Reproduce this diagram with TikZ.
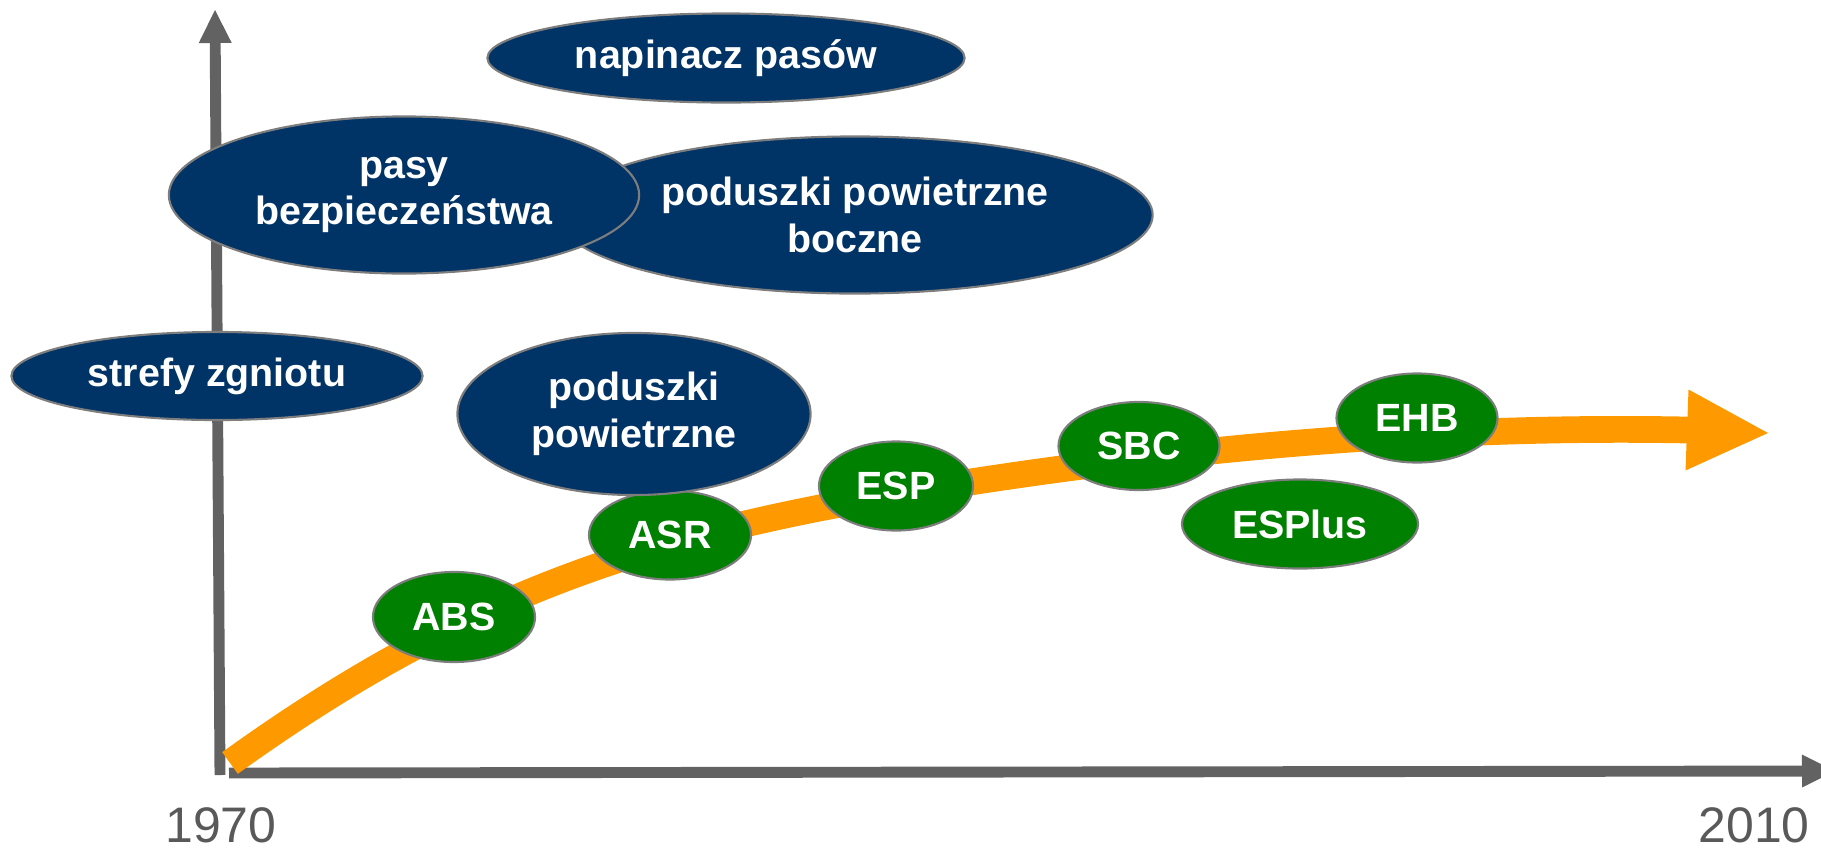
\documentclass[tikz,border=0pt]{standalone}
\usepackage{fontspec}
\setmainfont{Liberation Sans}
\usetikzlibrary{shapes.geometric, arrows.meta}
\definecolor{navy}{RGB}{0,51,102}
\definecolor{safetygreen}{RGB}{0,128,0}
\definecolor{trendorange}{RGB}{255,153,0}
\definecolor{axisgray}{RGB}{98,98,98}
\definecolor{yeargray}{RGB}{89,89,89}
\definecolor{rimgray}{RGB}{125,125,125}

\begin{document}
\begin{tikzpicture}[x=0.01cm, y=-0.01cm,
    passive/.style = {ellipse, draw=rimgray, line width=0.6pt, fill=navy, text=white, inner sep=0pt,
                      align=center, font=\bfseries\fontsize{11.2pt}{13.2pt}\selectfont},
    active/.style = {passive, fill=safetygreen},
    year/.style = {text=yeargray, inner sep=0pt, font=\fontsize{14.2pt}{17pt}\selectfont},
    axis/.style = {draw=axisgray, line width=3.1pt, -{Triangle[length=0.33cm, width=0.33cm, line width=0pt]}},
    trend/.style = {draw=trendorange, line width=7.6pt, -{Triangle[length=0.81cm, width=0.81cm, line width=0pt]}}]
  \useasboundingbox (0, 0) rectangle (1821, 848);

  % Axes.
  \coordinate (YBase) at (220, 775);
  \coordinate (YTip) at (215, 10);
  \coordinate (XBase) at (229, 773);
  \coordinate (XTip) at (1835, 771);
  \draw [axis] (YBase) -- (YTip);
  \draw [axis] (XBase) -- (XTip);
  \node at (221, 825) [year, name=StartYear] {1970};
  \node at (1754, 825) [year, name=EndYear] {2010};

  % Trend.
  \coordinate (TrendStart) at (230, 763);
  \coordinate (TrendMid) at (896, 494);
  \coordinate (TrendFlat) at (1687, 430);
  \coordinate (TrendTip) at (1768, 433);
  \draw [trend] (TrendStart)
                .. controls (470, 590) and (656, 535) .. (TrendMid)
                .. controls (1156, 450) and (1427, 425) .. (TrendFlat)
                -- (TrendTip);

  % Active safety.
  \node at (454, 617) [active, minimum width=1.62cm, minimum height=0.90cm, name=ABS] {ABS};
  \node at (670, 535) [active, minimum width=1.62cm, minimum height=0.89cm, name=ASR] {ASR};
  \node at (896, 486) [active, minimum width=1.54cm, minimum height=0.89cm, name=ESP] {ESP};
  \node at (1139, 446) [active, minimum width=1.61cm, minimum height=0.88cm, name=SBC] {SBC};
  \node at (1417, 418) [active, minimum width=1.61cm, minimum height=0.89cm, name=EHB] {EHB};
  \node at (1300, 524) [active, minimum width=2.36cm, minimum height=0.89cm, name=ESPlus] {ESPlus};

  % Passive safety.
  \node at (726, 58) [passive, minimum width=4.77cm, minimum height=0.89cm, name=Pretensioner] {napinacz pasów};
  \node at (855, 215) [passive, minimum width=5.95cm, minimum height=1.57cm, name=SideAirbags] {poduszki powietrzne\\boczne};
  \node at (404, 195) [passive, minimum width=4.70cm, minimum height=1.57cm, name=SeatBelts] {pasy\\bezpieczeństwa};
  \node at (217, 376) [passive, minimum width=4.11cm, minimum height=0.88cm, name=CrumpleZones] {strefy zgniotu};
  \node at (634, 414) [passive, minimum width=3.53cm, minimum height=1.62cm, name=Airbags] {poduszki\\powietrzne};
\end{tikzpicture}
\end{document}
